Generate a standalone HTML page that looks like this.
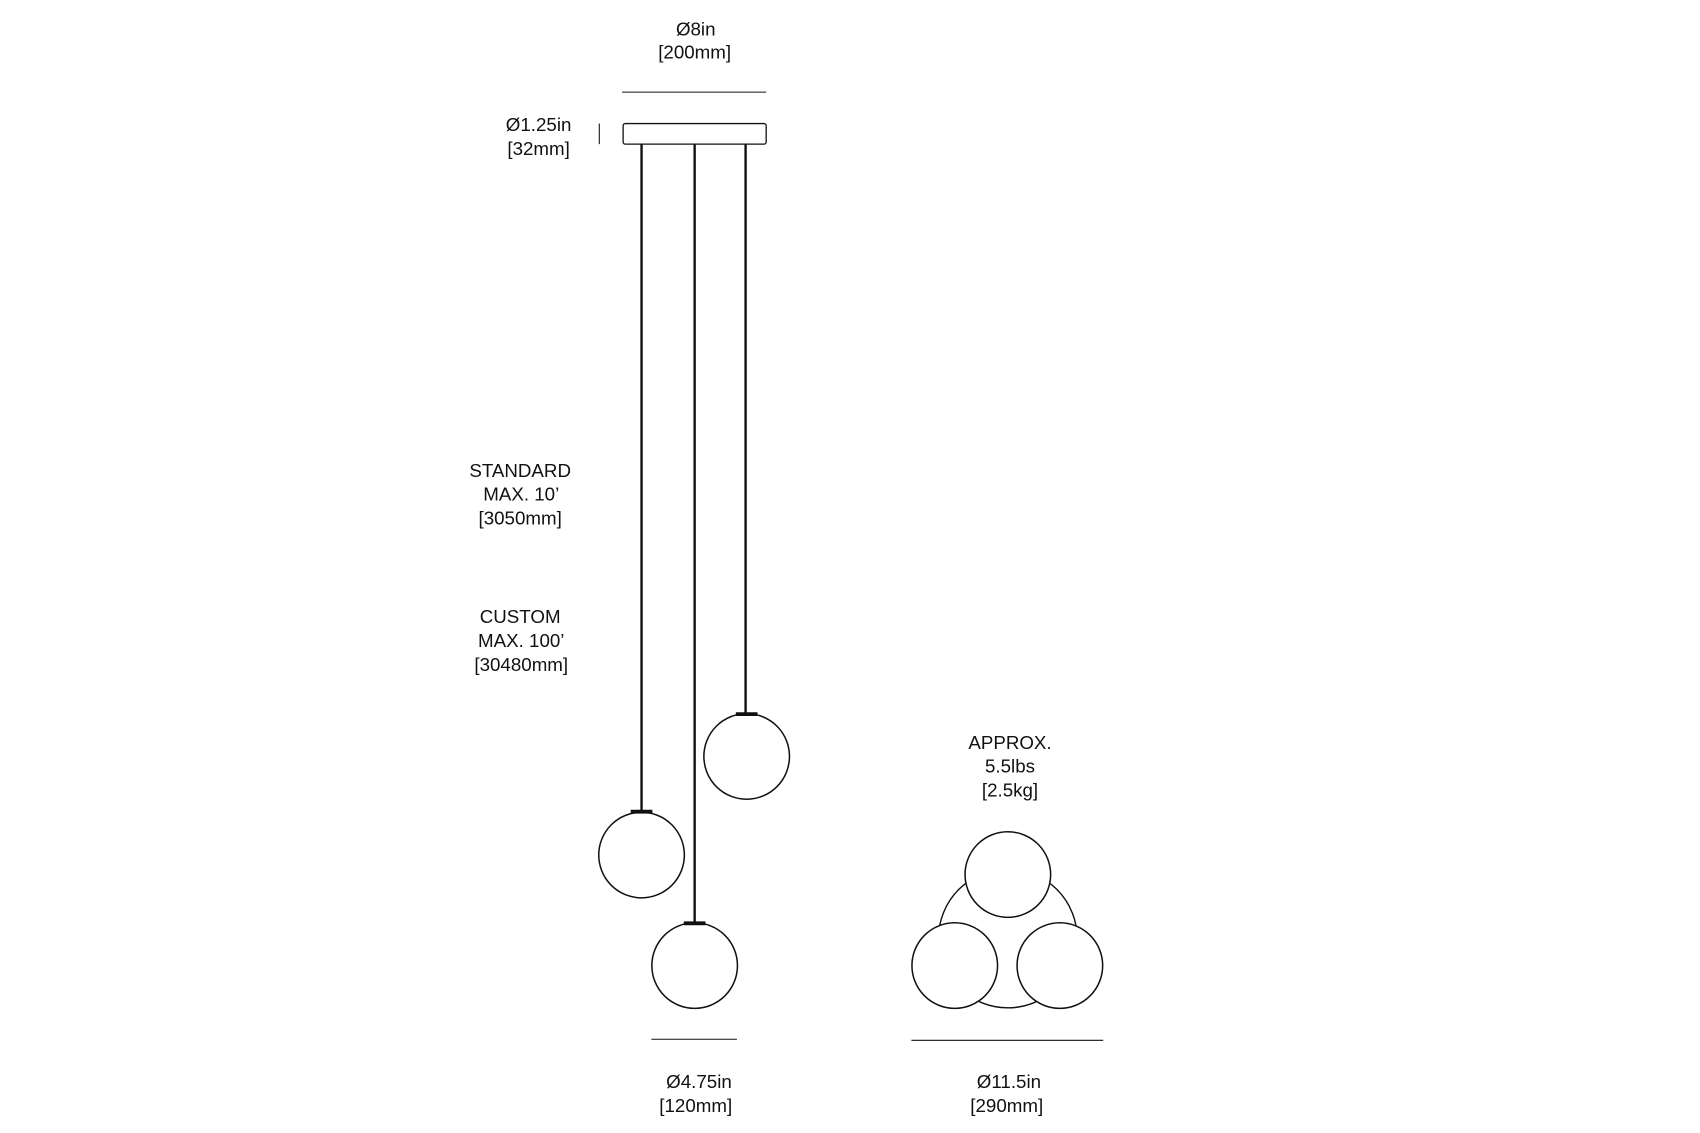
<!DOCTYPE html>
<html><head><style>html,body{margin:0;padding:0;background:#fff}svg{display:block}</style></head>
<body>
<svg width="1700" height="1133" viewBox="0 0 1568.7 1045.5" preserveAspectRatio="none" xmlns="http://www.w3.org/2000/svg">
<g font-family="Liberation Sans, sans-serif" font-size="17.3" fill="#111" text-anchor="middle">
<text x="642" y="33">Ø8in</text>
<text x="641" y="54">[200mm]</text>
<text x="497" y="121">Ø1.25in</text>
<text x="497" y="143">[32mm]</text>
<text x="480" y="440">STANDARD</text>
<text x="481" y="462">MAX. 10’</text>
<text x="480" y="484">[3050mm]</text>
<text x="480" y="575">CUSTOM</text>
<text x="481" y="597">MAX. 100’</text>
<text x="481" y="619">[30480mm]</text>
<text x="932" y="691">APPROX.</text>
<text x="932" y="713">5.5lbs</text>
<text x="932" y="735">[2.5kg]</text>
<text x="645" y="1004">Ø4.75in</text>
<text x="642" y="1026">[120mm]</text>
<text x="931" y="1004">Ø11.5in</text>
<text x="929" y="1026">[290mm]</text>
</g>
<g stroke="#111" fill="none">
<line x1="574" y1="85" x2="707" y2="85" stroke-width="1"/>
<line x1="553" y1="114" x2="553" y2="133" stroke-width="1"/>
<rect x="575" y="114" width="132" height="19" rx="2" stroke-width="1.2"/>
<line x1="592" y1="133" x2="592" y2="748" stroke-width="2.2"/>
<line x1="641" y1="133" x2="641" y2="851" stroke-width="2.2"/>
<line x1="688" y1="133" x2="688" y2="658" stroke-width="2.2"/>
<line x1="582" y1="749" x2="602" y2="749" stroke-width="3.5"/>
<line x1="631" y1="852" x2="651" y2="852" stroke-width="3.5"/>
<line x1="679" y1="659" x2="699" y2="659" stroke-width="3.5"/>
<circle cx="592" cy="789" r="39.5" stroke-width="1.4"/>
<circle cx="641" cy="891" r="39.5" stroke-width="1.4"/>
<circle cx="689" cy="698" r="39.5" stroke-width="1.4"/>
<circle cx="930" cy="866" r="64" stroke-width="1.3"/>
<circle cx="930" cy="807" r="39.5" stroke-width="1.4" fill="#fff"/>
<circle cx="881" cy="891" r="39.5" stroke-width="1.4" fill="#fff"/>
<circle cx="978" cy="891" r="39.5" stroke-width="1.4" fill="#fff"/>
<line x1="601" y1="959" x2="680" y2="959" stroke-width="1"/>
<line x1="841" y1="960" x2="1018" y2="960" stroke-width="1"/>
</g>
</svg>
</body></html>
